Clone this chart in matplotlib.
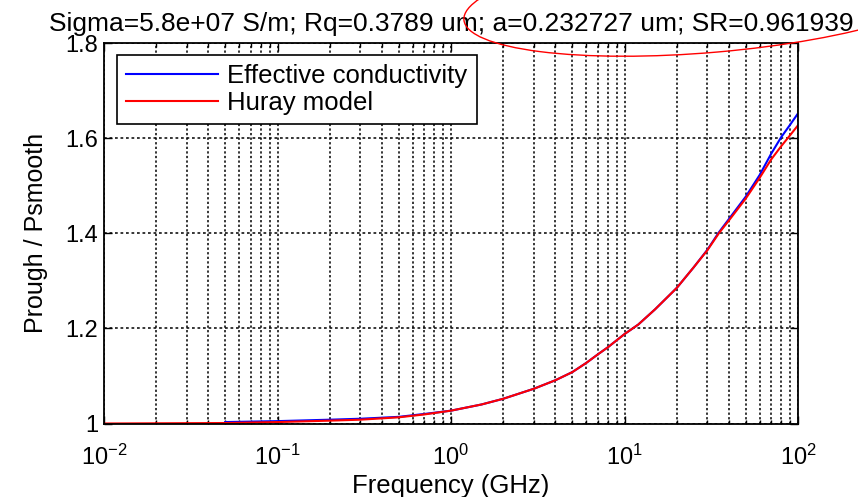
import matplotlib
matplotlib.use("Agg")
import matplotlib.pyplot as plt
from matplotlib.patches import Ellipse
from matplotlib.transforms import IdentityTransform
from matplotlib.ticker import LogLocator, FixedLocator, NullFormatter

plt.rcParams['font.family'] = ['Liberation Sans', 'DejaVu Sans']
plt.rcParams['mathtext.fontset'] = 'custom'
plt.rcParams['mathtext.rm'] = 'Liberation Sans'

# Huray model (red)
freq_huray = [0.01, 0.05, 0.1, 0.2, 0.3, 0.5, 0.7, 1, 1.5, 2, 3, 4, 5, 6, 7,
              8, 10, 12, 15, 20, 25, 30, 35, 40, 50, 60, 70, 80, 90, 100]
ratio_huray = [1.000, 1.001, 1.003, 1.006, 1.008, 1.013, 1.019, 1.027, 1.040,
               1.052, 1.073, 1.091, 1.108, 1.127, 1.145, 1.160, 1.188, 1.208,
               1.240, 1.285, 1.328, 1.364, 1.400, 1.427, 1.473, 1.516, 1.555,
               1.583, 1.606, 1.627]

# effective conductivity (blue), starts at 0.05 GHz
freq_eff = [0.05, 0.1, 0.2, 0.3, 0.5, 0.7, 1, 1.5, 2, 3, 4, 5, 6, 7, 8, 10,
            12, 15, 20, 25, 30, 35, 40, 50, 60, 70, 80, 90, 100]
ratio_eff = [1.003, 1.005, 1.008, 1.010, 1.014, 1.020, 1.027, 1.040, 1.052,
             1.073, 1.091, 1.108, 1.127, 1.145, 1.160, 1.188, 1.208, 1.240,
             1.285, 1.328, 1.365, 1.402, 1.430, 1.477, 1.522, 1.567, 1.602,
             1.628, 1.652]

title_text = "Sigma=5.8e+07 S/m; Rq=0.3789 um; a=0.232727 um; SR=0.961939"
y_ticks = [1, 1.2, 1.4, 1.6, 1.8]
y_labels = ["1", "1.2", "1.4", "1.6", "1.8"]
x_ticks = [0.01, 0.1, 1, 10, 100]
x_labels = [r"$\mathregular{10^{-2}}$", r"$\mathregular{10^{-1}}$",
            r"$\mathregular{10^{0}}$", r"$\mathregular{10^{1}}$",
            r"$\mathregular{10^{2}}$"]

FS = 17

fig = plt.figure(figsize=(8.58, 4.97), dpi=100)
ax = fig.add_axes([104 / 858, 1 - 423.5 / 497, 694 / 858, 380.5 / 497])

ax.plot(freq_eff, ratio_eff, color='#0000ff', lw=1.5, label='Effective conductivity')
ax.plot(freq_huray, ratio_huray, color='#ff0000', lw=1.5, label='Huray model')

ax.set_xscale('log')
ax.set_xlim(0.01, 100)
ax.set_ylim(1, 1.8)
ax.xaxis.set_major_locator(FixedLocator(x_ticks))
ax.set_xticklabels(x_labels)
ax.xaxis.set_minor_locator(LogLocator(base=10, subs=range(2, 10), numticks=20))
ax.xaxis.set_minor_formatter(NullFormatter())
ax.set_yticks(y_ticks)
ax.set_yticklabels(y_labels)

ax.tick_params(which='both', direction='in', top=True, right=True, labelsize=FS,
               width=1)
ax.tick_params(which='major', length=6)
ax.tick_params(which='minor', length=3)
ax.tick_params(axis='x', pad=15)
ax.tick_params(axis='y', pad=4)

ax.grid(True, which='both', axis='x', color='black', lw=1.1, linestyle=(0, (1.5, 1.5)))
ax.grid(True, which='major', axis='y', color='black', lw=1.1, linestyle=(0, (1.8, 1.8)))
for s in ax.spines.values():
    s.set_linewidth(1.3)

ax.set_xlabel('Frequency (GHz)', fontsize=18.5, labelpad=3)
ax.set_ylabel('Prough / Psmooth', fontsize=18, labelpad=13)
ax.set_title(title_text, fontsize=19, pad=9)

leg = ax.legend(loc='upper left', bbox_to_anchor=(13 / 694, 1 - 12 / 380.5),
                borderaxespad=0, fontsize=18.5, fancybox=False, framealpha=1,
                edgecolor='black', handlelength=3.6, handletextpad=0.35,
                labelspacing=0.1, borderpad=0.35)
leg.get_frame().set_linewidth(1.2)

# red ellipse drawn over the title, in pixel coordinates
ell = Ellipse((713, 498.8), 500, 108, angle=5, fill=False, edgecolor='red', lw=1.0,
              transform=IdentityTransform(), clip_on=False)
fig.add_artist(ell)

fig.savefig('out.png', dpi=100)
